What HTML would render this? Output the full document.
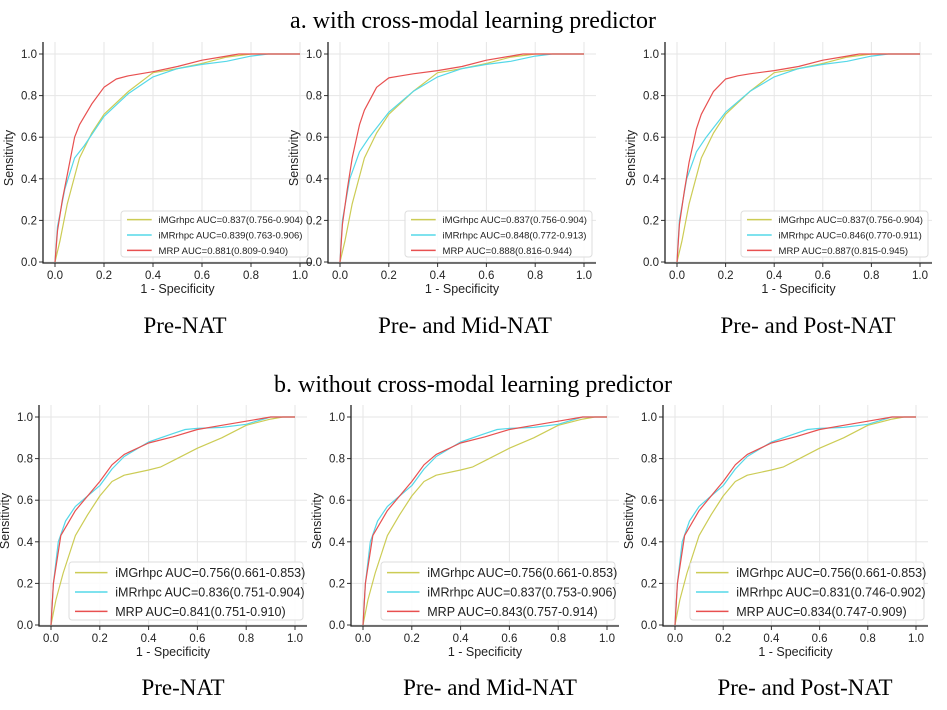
<!DOCTYPE html>
<html><head><meta charset="utf-8"><style>
body{margin:0;background:#fff;width:947px;height:710px;overflow:hidden}
svg{display:block}
.ser{font-family:"Liberation Serif",serif;fill:#000}
.san{font-family:"Liberation Sans","DejaVu Sans",sans-serif;fill:#222}
</style></head><body>
<svg id="c" width="947" height="710">
<text class="ser" x="473" y="28" font-size="24" text-anchor="middle">a. with cross-modal learning predictor</text>
<text class="ser" x="473" y="392" font-size="24" text-anchor="middle">b. without cross-modal learning predictor</text>
</svg>
<script>
const ticks=[0,0.2,0.4,0.6,0.8,1.0];
const tickLabels=["0.0","0.2","0.4","0.6","0.8","1.0"];
const seriesNames=["iMGrhpc","iMRrhpc","MRP"];
const seriesColors=["#cccc55","#55d8e8","#e85050"];
// top row (with cross-modal)
const topMG_x=[0,0.02,0.05,0.1,0.15,0.2,0.3,0.4,0.5,0.6,0.7,0.8,1];
const topMG_y=[0,0.1,0.28,0.5,0.62,0.71,0.82,0.91,0.93,0.955,0.985,1,1];
const topMR_x=[0,0.01,0.04,0.08,0.12,0.2,0.3,0.4,0.5,0.6,0.7,0.8,0.87,1];
const topMR_y=[0,0.17,0.35,0.5,0.56,0.7,0.81,0.89,0.93,0.95,0.965,0.99,1,1];
const topMRP_x=[0,0.01,0.03,0.05,0.08,0.1,0.15,0.2,0.25,0.3,0.4,0.5,0.6,0.7,0.75,1];
const topMRP1_y=[0,0.15,0.3,0.42,0.6,0.66,0.76,0.84,0.88,0.895,0.915,0.94,0.97,0.99,1,1];
const topMRP2_y=[0,0.18,0.35,0.5,0.66,0.73,0.84,0.885,0.895,0.905,0.92,0.94,0.97,0.99,1,1];
const topMRP3_y=[0,0.18,0.34,0.48,0.64,0.71,0.82,0.88,0.895,0.905,0.92,0.94,0.97,0.99,1,1];
const topMR2_y=[0,0.2,0.4,0.53,0.6,0.72,0.82,0.89,0.93,0.95,0.965,0.99,1,1];
// bottom row (without cross-modal)
const botMG_x=[0,0.02,0.05,0.1,0.15,0.2,0.25,0.3,0.4,0.45,0.5,0.6,0.7,0.8,0.9,0.95,1];
const botMG_y=[0,0.12,0.25,0.43,0.53,0.62,0.69,0.72,0.745,0.76,0.79,0.85,0.9,0.96,0.99,1,1];
const botMR_x=[0,0.01,0.03,0.06,0.1,0.15,0.2,0.25,0.3,0.4,0.5,0.55,0.6,0.7,0.8,0.9,1];
const botMR_y=[0,0.2,0.4,0.5,0.57,0.62,0.67,0.75,0.81,0.88,0.92,0.94,0.945,0.95,0.965,1,1];
const botMRP_x=[0,0.01,0.04,0.1,0.15,0.2,0.25,0.3,0.4,0.5,0.6,0.7,0.8,0.9,1];
const botMRP_y=[0,0.2,0.43,0.55,0.62,0.69,0.77,0.82,0.875,0.905,0.94,0.96,0.98,1,1];
const legendTop1=["iMGrhpc AUC=0.837(0.756-0.904)","iMRrhpc AUC=0.839(0.763-0.906)","MRP AUC=0.881(0.809-0.940)"];
const legendTop2=["iMGrhpc AUC=0.837(0.756-0.904)","iMRrhpc AUC=0.848(0.772-0.913)","MRP AUC=0.888(0.816-0.944)"];
const legendTop3=["iMGrhpc AUC=0.837(0.756-0.904)","iMRrhpc AUC=0.846(0.770-0.911)","MRP AUC=0.887(0.815-0.945)"];
const legendBot1=["iMGrhpc AUC=0.756(0.661-0.853)","iMRrhpc AUC=0.836(0.751-0.904)","MRP AUC=0.841(0.751-0.910)"];
const legendBot2=["iMGrhpc AUC=0.756(0.661-0.853)","iMRrhpc AUC=0.837(0.753-0.906)","MRP AUC=0.843(0.757-0.914)"];
const legendBot3=["iMGrhpc AUC=0.756(0.661-0.853)","iMRrhpc AUC=0.831(0.746-0.902)","MRP AUC=0.834(0.747-0.909)"];
const captions=["Pre-NAT","Pre- and Mid-NAT","Pre- and Post-NAT"];

const NS="http://www.w3.org/2000/svg";
const svg=document.getElementById('c');
function mk(tag,attrs,parent){const e=document.createElementNS(NS,tag);for(const k in attrs)e.setAttribute(k,attrs[k]);(parent||svg).appendChild(e);return e;}

const panels=[
 {x0:55,x1:300,y0:262,y1:54,cap:185,capY:333,lg:legendTop1,fs:9.5,lw:187,lh:46,s:[[topMG_x,topMG_y],[topMR_x,topMR_y],[topMRP_x,topMRP1_y]]},
 {x0:340,x1:584,y0:262,y1:54,cap:465,capY:333,lg:legendTop2,fs:9.5,lw:187,lh:46,s:[[topMG_x,topMG_y],[topMR_x,topMR2_y],[topMRP_x,topMRP2_y]]},
 {x0:677,x1:920,y0:262,y1:54,cap:808,capY:333,lg:legendTop3,fs:9.5,lw:187,lh:46,s:[[topMG_x,topMG_y],[topMR_x,topMR2_y],[topMRP_x,topMRP3_y]]},
 {x0:51,x1:295,y0:625,y1:417,cap:183,capY:695,lg:legendBot1,fs:12.5,lw:234,lh:58,s:[[botMG_x,botMG_y],[botMR_x,botMR_y],[botMRP_x,botMRP_y]]},
 {x0:363,x1:607,y0:625,y1:417,cap:490,capY:695,lg:legendBot2,fs:12.5,lw:234,lh:58,s:[[botMG_x,botMG_y],[botMR_x,botMR_y],[botMRP_x,botMRP_y]]},
 {x0:675,x1:916,y0:625,y1:417,cap:805,capY:695,lg:legendBot3,fs:12.5,lw:234,lh:58,s:[[botMG_x,botMG_y],[botMR_x,botMR_y],[botMRP_x,botMRP_y]]}
];

panels.forEach((p,pi)=>{
 const X=v=>p.x0+v*(p.x1-p.x0), Y=v=>p.y0-v*(p.y0-p.y1);
 const g=mk('g',{});
 
 
 const left=p.x0-12, right=p.x1+12, bottom=p.y0+1, top=p.y1-12;
 ticks.forEach((t,i)=>{
  const gx=mk('line',{x1:X(t),x2:X(t),y1:top,y2:bottom,stroke:'#e6e6e6','stroke-width':1},g);
  
  
  const gy=mk('line',{x1:left,x2:right,y1:Y(t),y2:Y(t),stroke:'#e6e6e6','stroke-width':1},g);
  
  
  mk('line',{x1:X(t),x2:X(t),y1:bottom,y2:bottom+4,stroke:'#333'},g);
  mk('line',{x1:left-4,x2:left,y1:Y(t),y2:Y(t),stroke:'#333'},g);
  const tx=mk('text',{class:'san',x:X(t),y:bottom+16,'font-size':11.5,'text-anchor':'middle'},g);
  tx.textContent=tickLabels[i];
  
  
  const ty=mk('text',{class:'san',x:left-6,y:Y(t)+4,'font-size':11.5,'text-anchor':'end'},g);
  ty.textContent=tickLabels[i];
  
  
 });
 p.s.forEach((s,si)=>{
  const pts=s[0].map((x,i)=>X(x).toFixed(1)+','+Y(s[1][i]).toFixed(1)).join(' ');
  const pl=mk('polyline',{points:pts,fill:'none',stroke:seriesColors[si],'stroke-width':1.2,'stroke-linejoin':'round'},g);
  
  
 });
 const sp=mk('path',{d:`M${left},${top} V${bottom} H${right}`,fill:'none',stroke:'#222','stroke-width':1.3},g);
 
 
 const xl=mk('text',{class:'san',x:(p.x0+p.x1)/2,y:bottom+30,'font-size':12.5,'text-anchor':'middle'},g);
 xl.textContent='1 - Specificity';
 
 
 const yx=left-30, yy=(p.y0+p.y1)/2;
 const yl=mk('text',{class:'san',x:yx,y:yy,'font-size':12.5,'text-anchor':'middle',transform:`rotate(-90 ${yx} ${yy})`},g);
 yl.textContent='Sensitivity';
 
 
 // legend
 const lx=right-p.lw-4, ly=bottom-p.lh-6;
 const lg=mk('g',{},g);
 
 
 mk('rect',{x:lx,y:ly,width:p.lw,height:p.lh,rx:3,fill:'#fff','fill-opacity':0.85,stroke:'#ddd'},lg);
 const rowH=p.lh/3;
 p.lg.forEach((t,i)=>{
  const cy=ly+rowH*(i+0.5)+1;
  mk('line',{x1:lx+6,x2:lx+6+p.fs*2.6,y1:cy,y2:cy,stroke:seriesColors[i],'stroke-width':1.5},lg);
  const tt=mk('text',{class:'san',x:lx+10+p.fs*2.9,y:cy+p.fs*0.36,'font-size':p.fs},lg);
  tt.textContent=t;
  
  
 });
 const cp=mk('text',{class:'ser',x:p.cap,y:p.capY,'font-size':23,'text-anchor':'middle'});
 cp.textContent=captions[pi%3];
 
 
});
</script>
</body></html>
